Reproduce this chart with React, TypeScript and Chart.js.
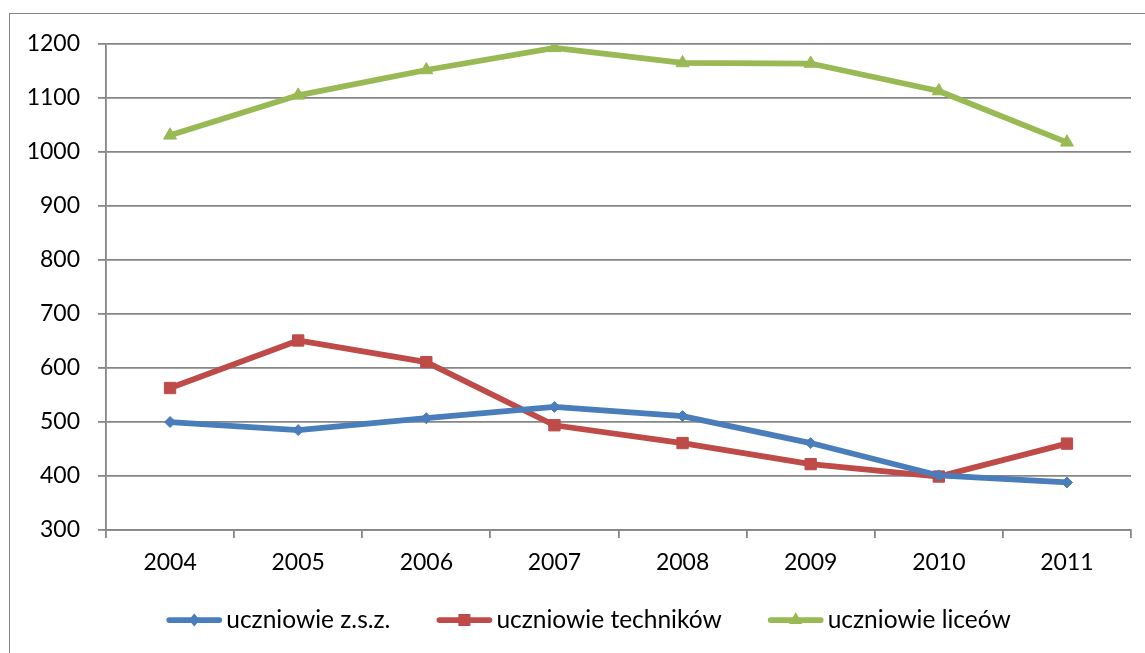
import React, { useEffect, useRef } from 'react';
import { Chart, registerables } from 'chart.js';

Chart.register(...registerables);

const years = ['2004', '2005', '2006', '2007', '2008', '2009', '2010', '2011'];
const uczniowieZsz = [500, 485, 507, 528, 511, 461, 401, 388];
const uczniowieTechnikow = [563, 651, 611, 494, 461, 422, 399, 460];
const uczniowieLiceow = [1031, 1105, 1152, 1193, 1165, 1164, 1113, 1018];
const seriesNames = ['uczniowie z.s.z.', 'uczniowie techników', 'uczniowie liceów'];
const seriesColors = ['#4A7EBB', '#BE4B48', '#98B954'];
const seriesMarkers = ['diamond', 'square', 'triangle'];
const yMin = 300;
const yMax = 1200;
const yStep = 100;

const FONT = 'Lato, "Open Sans", sans-serif';
const FONT_SIZE = 23;
const LEGEND_FONT_SIZE = 24.5;
const LINE_W = 5.75;

function drawMarker(ctx: CanvasRenderingContext2D, kind: string, cx: number, y: number) {
  ctx.beginPath();
  if (kind === 'diamond') {
    ctx.moveTo(cx - 5.5, y);
    ctx.lineTo(cx, y - 6.5);
    ctx.lineTo(cx + 5.5, y);
    ctx.lineTo(cx, y + 6.5);
  } else if (kind === 'square') {
    ctx.rect(cx - 6, y - 6, 12, 12);
  } else {
    ctx.moveTo(cx, y - 8);
    ctx.lineTo(cx + 6.5, y + 4);
    ctx.lineTo(cx - 6.5, y + 4);
  }
  ctx.closePath();
  ctx.fill();
}

const legendPlugin = {
  id: 'excelLegend',
  afterDraw(chart: any) {
    const ctx: CanvasRenderingContext2D = chart.ctx;
    const lineLen = 56;
    const textGap = 4;
    const itemGap = 46;
    const y = chart.height - 33;
    ctx.save();
    ctx.font = `${LEGEND_FONT_SIZE}px ${FONT}`;
    ctx.textBaseline = 'middle';
    ctx.textAlign = 'left';
    const widths = seriesNames.map((n) => ctx.measureText(n).width);
    const total =
      widths.reduce((a, w) => a + lineLen + textGap + w, 0) + itemGap * (seriesNames.length - 1);
    let x = chart.width / 2 + 11 - total / 2;
    seriesNames.forEach((name, i) => {
      const color = seriesColors[i];
      ctx.strokeStyle = color;
      ctx.fillStyle = color;
      ctx.lineWidth = LINE_W;
      ctx.lineCap = 'round';
      ctx.beginPath();
      ctx.moveTo(x + 3, y);
      ctx.lineTo(x + lineLen - 3, y);
      ctx.stroke();
      drawMarker(ctx, seriesMarkers[i], x + lineLen / 2, y);
      ctx.fillStyle = '#000';
      ctx.fillText(name, x + lineLen + textGap, y);
      x += lineLen + textGap + widths[i] + itemGap;
    });
    ctx.restore();
  },
};

export default function App() {
  const ref = useRef<HTMLCanvasElement>(null);

  useEffect(() => {
    if (!ref.current) return;
    const grid = '#868686';
    const chart = new Chart(ref.current, {
      type: 'line',
      data: {
        labels: years,
        datasets: [
          {
            label: seriesNames[0],
            data: uczniowieZsz,
            borderColor: seriesColors[0],
            backgroundColor: seriesColors[0],
            borderWidth: LINE_W,
            pointStyle: 'rectRot',
            pointRadius: 5.5,
            pointBorderWidth: 1,
            tension: 0,
          },
          {
            label: seriesNames[1],
            data: uczniowieTechnikow,
            borderColor: seriesColors[1],
            backgroundColor: seriesColors[1],
            borderWidth: LINE_W,
            pointStyle: 'rect',
            pointRadius: 8,
            pointBorderWidth: 1,
            tension: 0,
          },
          {
            label: seriesNames[2],
            data: uczniowieLiceow,
            borderColor: seriesColors[2],
            backgroundColor: seriesColors[2],
            borderWidth: LINE_W,
            pointStyle: 'triangle',
            pointRadius: 7.5,
            pointBorderWidth: 1,
            tension: 0,
          },
        ],
      },
      options: {
        responsive: false,
        animation: false,
        events: [],
        layout: { padding: { left: 0, right: 14, top: 28, bottom: 73 } },
        font: { family: FONT, size: FONT_SIZE },
        color: '#000',
        scales: {
          x: {
            offset: true,
            grid: {
              offset: true,
              drawOnChartArea: false,
              drawTicks: true,
              tickLength: 8,
              color: grid,
              lineWidth: 1.8,
            },
            border: { color: grid, width: 1.8 },
            ticks: {
              color: '#000',
              font: { family: FONT, size: FONT_SIZE },
              padding: 11,
              maxRotation: 0,
            },
            afterFit: (s: any) => {
              s.height = 50;
            },
          },
          y: {
            min: yMin,
            max: yMax,
            grid: {
              color: grid,
              lineWidth: 1.8,
              drawTicks: true,
              tickLength: 8,
            },
            border: { color: grid, width: 1.8 },
            ticks: {
              stepSize: yStep,
              color: '#000',
              font: { family: FONT, size: FONT_SIZE, lineHeight: 1.05 },
              padding: 18,
              callback: (v: any) => String(v),
            },
            afterFit: (s: any) => {
              s.width = 96;
            },
          },
        },
        plugins: {
          tooltip: { enabled: false },
          title: { display: false },
          legend: { display: false },
        },
      },
      plugins: [legendPlugin],
    } as any);
    return () => chart.destroy();
  }, []);

  return (
    <div
      style={{
        position: 'fixed',
        left: 9,
        top: 13,
        width: 1160,
        height: 680,
        border: '1px solid #868686',
        background: '#fff',
        boxSizing: 'border-box',
      }}
    >
      <canvas
        ref={ref}
        width={1135}
        height={639}
        style={{ display: 'block', width: 1135, height: 639 }}
      />
    </div>
  );
}
